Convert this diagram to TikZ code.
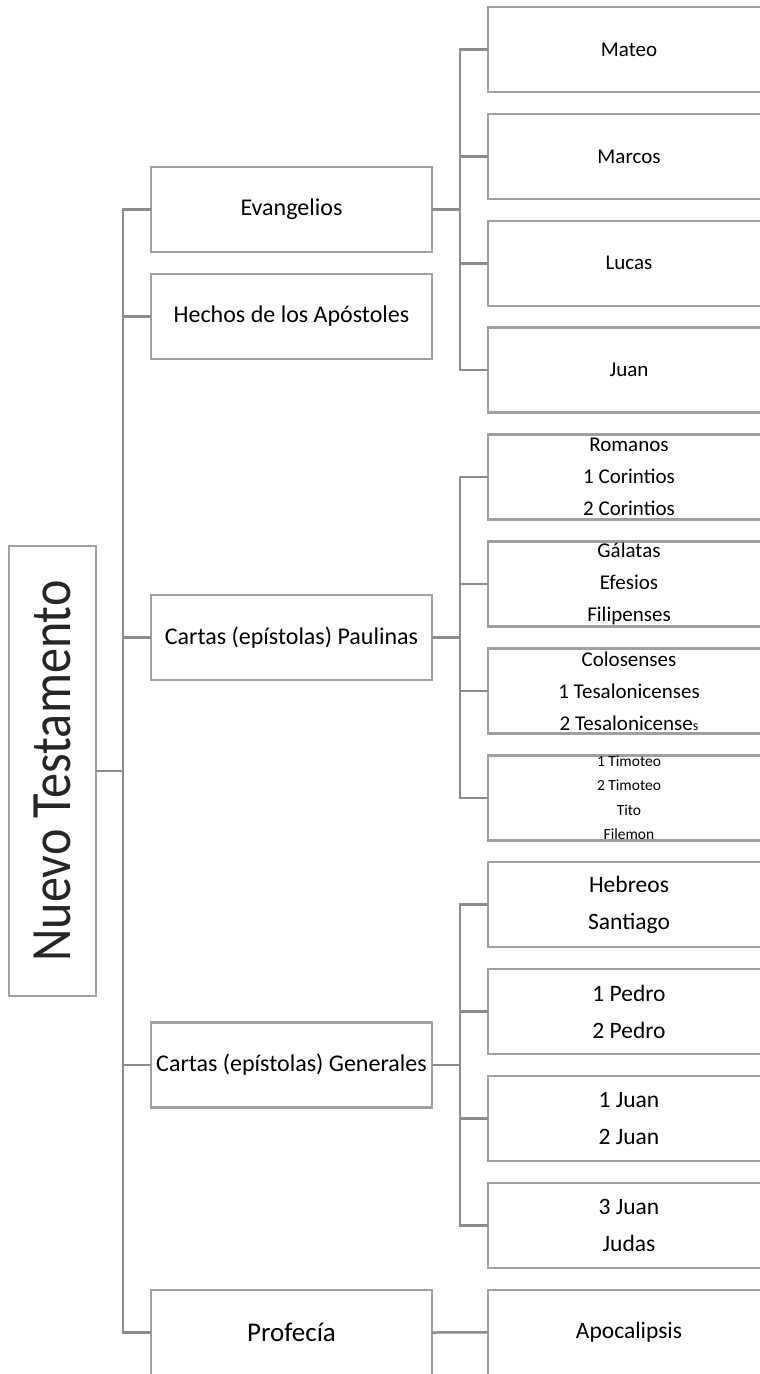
\documentclass[tikz,border=0pt]{standalone}
\usepackage{fontspec}
\setmainfont{Carlito}
\usepackage{tikz}
\usetikzlibrary{positioning}

\definecolor{boxgray}{HTML}{A0A0A0}
\definecolor{linkgray}{HTML}{8C8C8C}

\tikzset{
  box/.style={draw=boxgray, line width=2.5pt, fill=white, inner sep=0pt, outer sep=0pt,
    minimum width=281pt, minimum height=85pt, font=\fontsize{24}{24}\selectfont},
  book/.style={box, minimum width=330pt},
  lines/.style={align=center, inner sep=0pt, xshift=-24pt},
  link/.style={draw=linkgray, line width=2.5pt},
}

\begin{document}
\begin{tikzpicture}[x=1pt, y=-1pt]
\useasboundingbox (0,0) rectangle (760,1374);
\clip (0,0) rectangle (760,1374);

% root
\node[box, minimum width=87pt, minimum height=450pt] (nt) at (52.5,771) {};
\node[rotate=90, inner sep=0pt, font=\fontsize{57}{57}\selectfont, text=black!85] (nt-t) at (nt) {\scalebox{0.88}[1]{Nuevo Testamento}};

% groups
\node[box] (ev) at (291.5,209.5) {Evangelios};
\node[box, below=22pt of ev] (hch) {Hechos de los Apóstoles};
\node[box] (pau) at (291.5,637.5) {Cartas (epístolas) Paulinas};
\node[box] (gen) at (291.5,1065) {Cartas (epístolas) Generales};
\node[box, font=\fontsize{27}{27}\selectfont] (pro) at (291.5,1332.5) {Profecía};

% books (boxes run past the right edge)
\node[book] (mat) at (653,49.5) {};
\node[book, below=21.9pt of mat] (mar) {};
\node[book, below=21.9pt of mar] (luc) {};
\node[book, below=21.9pt of luc] (jua) {};
\node[book, below=21.9pt of jua] (rom) {};
\node[book, below=21.9pt of rom] (gal) {};
\node[book, below=21.9pt of gal] (col) {};
\node[book, below=21.9pt of col] (tim) {};
\node[book, below=21.9pt of tim] (heb) {};
\node[book, below=21.9pt of heb] (ped) {};
\node[book, below=21.9pt of ped] (jn12) {};
\node[book, below=21.9pt of jn12] (jn3) {};
\node[book, below=21.9pt of jn3] (apo) {};

\node[lines, font=\fontsize{21}{21}\selectfont] (mat-t) at (mat) {Mateo};
\node[lines, font=\fontsize{21}{21}\selectfont] (mar-t) at (mar) {Marcos};
\node[lines, font=\fontsize{21}{21}\selectfont] (luc-t) at (luc) {Lucas};
\node[lines, font=\fontsize{21}{21}\selectfont] (jua-t) at (jua) {Juan};
\node[lines, font=\fontsize{21}{32}\selectfont] (rom-t) at (rom) {Romanos\\1 Corintios\\2 Corintios};
\node[lines, font=\fontsize{21}{32}\selectfont] (gal-t) at (gal) {Gálatas\\Efesios\\Filipenses};
\node[lines, font=\fontsize{21}{32}\selectfont] (col-t) at (col) {Colosenses\\1 Tesalonicenses\\2 Tesalonicense{\fontsize{14}{14}\selectfont s}};
\node[lines, font=\fontsize{15.5}{24.5}\selectfont] (tim-t) at (tim) {1 Timoteo\\2 Timoteo\\Tito\\Filemon};
\node[lines, font=\fontsize{23.5}{37}\selectfont] (heb-t) at (heb) {Hebreos\\Santiago};
\node[lines, font=\fontsize{23.5}{37}\selectfont] (ped-t) at (ped) {1 Pedro\\2 Pedro};
\node[lines, font=\fontsize{23.5}{37}\selectfont] (jn12-t) at (jn12) {1 Juan\\2 Juan};
\node[lines, font=\fontsize{23.5}{37}\selectfont] (jn3-t) at (jn3) {3 Juan\\Judas};
\node[lines, font=\fontsize{23.5}{23.5}\selectfont] (apo-t) at (apo) {Apocalipsis};

% root to groups
\draw[link] (nt.east) -- ++(27,0) |- (ev.west);
\draw[link] (nt.east) -- ++(27,0) |- (hch.west);
\draw[link] (nt.east) -- ++(27,0) |- (pau.west);
\draw[link] (nt.east) -- ++(27,0) |- (gen.west);
\draw[link] (nt.east) -- ++(27,0) |- (pro.west);

% groups to books
\draw[link] (ev.east) -- ++(28,0) |- (mat.west);
\draw[link] (ev.east) -- ++(28,0) |- (mar.west);
\draw[link] (ev.east) -- ++(28,0) |- (luc.west);
\draw[link] (ev.east) -- ++(28,0) |- (jua.west);
\draw[link] (pau.east) -- ++(28,0) |- (rom.west);
\draw[link] (pau.east) -- ++(28,0) |- (gal.west);
\draw[link] (pau.east) -- ++(28,0) |- (col.west);
\draw[link] (pau.east) -- ++(28,0) |- (tim.west);
\draw[link] (gen.east) -- ++(28,0) |- (heb.west);
\draw[link] (gen.east) -- ++(28,0) |- (ped.west);
\draw[link] (gen.east) -- ++(28,0) |- (jn12.west);
\draw[link] (gen.east) -- ++(28,0) |- (jn3.west);
\draw[link] (pro.east) -- (apo.west);
\end{tikzpicture}
\end{document}
